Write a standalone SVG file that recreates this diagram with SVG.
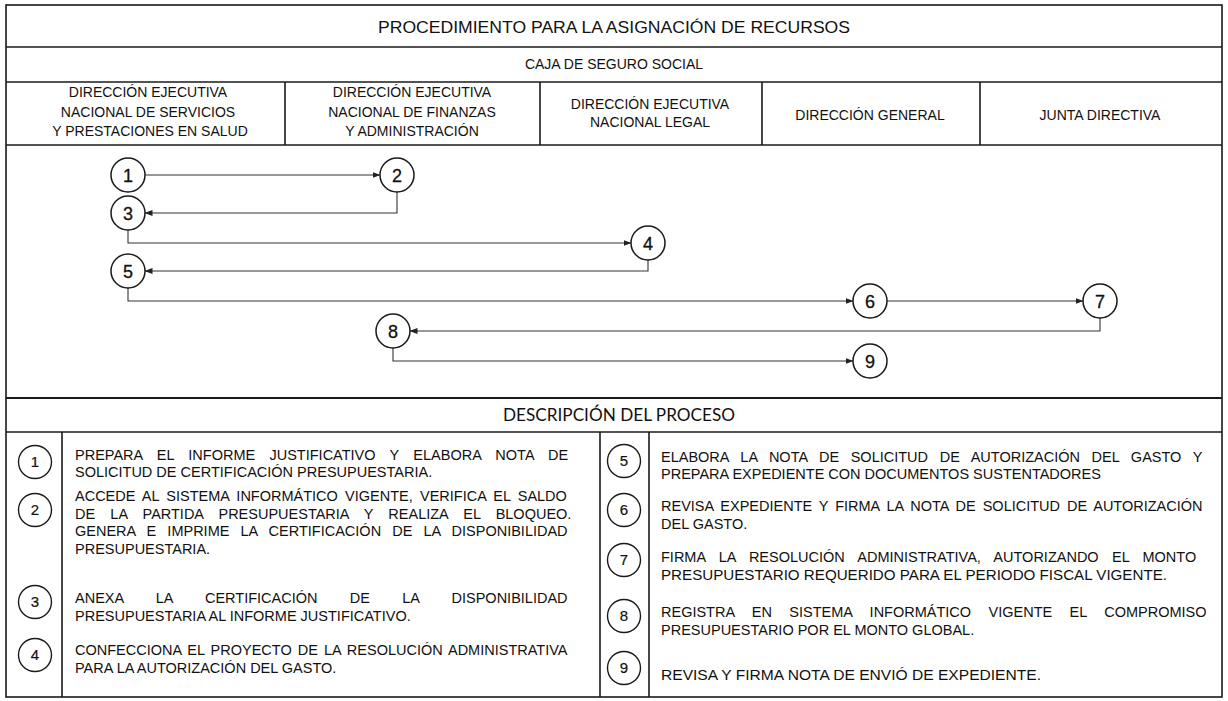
<svg xmlns="http://www.w3.org/2000/svg" width="1228" height="701" viewBox="0 0 1228 701">
<style>
.frame{fill:none;stroke:#1a1a1a;stroke-width:1.6}
.ln{stroke:#1a1a1a;stroke-width:1.6;fill:none}
.t{font-family:"Liberation Sans",Arial,sans-serif;fill:#111}
.title{font-size:17px;text-anchor:middle}
.sub{font-size:14px;text-anchor:middle}
.lane{font-size:14px;text-anchor:middle}
.desc{font-size:14.5px}
.hd{font-family:Lato,"Noto Sans",sans-serif;font-size:17px;text-anchor:middle;fill:#111}
.node circle{fill:#fff;stroke:#1a1a1a;stroke-width:1.5}
.node text{font-family:"Liberation Sans",Arial,sans-serif;font-size:18px;text-anchor:middle;fill:#111;stroke:#111;stroke-width:0.3}
.num circle{fill:#fff;stroke:#1a1a1a;stroke-width:1.4}
.num text{font-family:"Liberation Sans",Arial,sans-serif;font-size:15px;text-anchor:middle;fill:#111;stroke:#111;stroke-width:0.2}
.conn path{fill:none;stroke:#333;stroke-width:1.1;marker-end:url(#ah)}
</style>
<defs>
<marker id="ah" markerWidth="8" markerHeight="6" refX="7.5" refY="3" orient="auto" markerUnits="userSpaceOnUse">
<path d="M0,0 L8,3 L0,6 Z" fill="#222"/>
</marker>
</defs>
<rect x="0" y="0" width="1228" height="701" fill="#fff"/>

<g id="table">
<rect class="frame" x="6" y="5" width="1216" height="692"/>
<line class="ln" x1="6" y1="47" x2="1222" y2="47"/>
<line class="ln" x1="6" y1="82" x2="1222" y2="82"/>
<line class="ln" x1="6" y1="145" x2="1222" y2="145"/>
<line class="ln" x1="285" y1="82" x2="285" y2="145"/>
<line class="ln" x1="540" y1="82" x2="540" y2="145"/>
<line class="ln" x1="762" y1="82" x2="762" y2="145"/>
<line class="ln" x1="980" y1="82" x2="980" y2="145"/>
<line class="ln" x1="6" y1="398" x2="1222" y2="398" style="stroke-width:2.2"/>
<line class="ln" x1="6" y1="432" x2="1222" y2="432"/>
<line class="ln" x1="62" y1="432" x2="62" y2="697"/>
<line class="ln" x1="600" y1="432" x2="600" y2="697"/>
<line class="ln" x1="649" y1="432" x2="649" y2="697"/>
</g>

<g id="headers">
<text class="t title" x="614" y="33" textLength="472" lengthAdjust="spacingAndGlyphs">PROCEDIMIENTO PARA LA ASIGNACIÓN DE RECURSOS</text>
<text class="t sub" x="614" y="69">CAJA DE SEGURO SOCIAL</text>
<text class="t lane" x="148" y="97">DIRECCIÓN EJECUTIVA</text>
<text class="t lane" x="148" y="117">NACIONAL DE SERVICIOS</text>
<text class="t lane" x="150" y="136">Y PRESTACIONES EN SALUD</text>
<text class="t lane" x="412" y="97">DIRECCIÓN EJECUTIVA</text>
<text class="t lane" x="412" y="117">NACIONAL DE FINANZAS</text>
<text class="t lane" x="412" y="136">Y ADMINISTRACIÓN</text>
<text class="t lane" x="650" y="109">DIRECCIÓN EJECUTIVA</text>
<text class="t lane" x="650" y="127">NACIONAL LEGAL</text>
<text class="t lane" x="870" y="120">DIRECCIÓN GENERAL</text>
<text class="t lane" x="1100" y="120">JUNTA DIRECTIVA</text>
</g>

<g id="connectors" class="conn">
<path d="M145,175 H380"/>
<path d="M397,192 V213 H145"/>
<path d="M128,230 V243 H631"/>
<path d="M648,260 V271 H145"/>
<path d="M128,288 V301 H853"/>
<path d="M887,301 H1083"/>
<path d="M1100,318 V331 H410"/>
<path d="M393,348 V361 H853"/>
</g>

<g id="n1" class="node"><circle cx="128" cy="175" r="17"/><text x="128" y="181.5">1</text></g>
<g id="n2" class="node"><circle cx="397" cy="175" r="17"/><text x="397" y="181.5">2</text></g>
<g id="n3" class="node"><circle cx="128" cy="213" r="17"/><text x="128" y="219.5">3</text></g>
<g id="n4" class="node"><circle cx="648" cy="243" r="17"/><text x="648" y="249.5">4</text></g>
<g id="n5" class="node"><circle cx="128" cy="271" r="17"/><text x="128" y="277.5">5</text></g>
<g id="n6" class="node"><circle cx="870" cy="301" r="17"/><text x="870" y="307.5">6</text></g>
<g id="n7" class="node"><circle cx="1100" cy="301" r="17"/><text x="1100" y="307.5">7</text></g>
<g id="n8" class="node"><circle cx="393" cy="331" r="17"/><text x="393" y="337.5">8</text></g>
<g id="n9" class="node"><circle cx="870" cy="361" r="17"/><text x="870" y="367.5">9</text></g>

<g id="description">
<text class="hd" x="619" y="421" textLength="232" lengthAdjust="spacingAndGlyphs">DESCRIPCIÓN DEL PROCESO</text>

<g id="d1" class="num"><circle cx="35" cy="462" r="16.5"/><text x="35" y="467">1</text></g>
<text class="t desc" x="75" y="460" word-spacing="10.3">PREPARA EL INFORME JUSTIFICATIVO Y ELABORA NOTA DE</text>
<text class="t desc" x="75" y="477">SOLICITUD DE CERTIFICACIÓN PRESUPUESTARIA.</text>

<g id="d2" class="num"><circle cx="35" cy="510" r="16.5"/><text x="35" y="515">2</text></g>
<text class="t desc" x="75" y="501" word-spacing="3.2">ACCEDE AL SISTEMA INFORMÁTICO VIGENTE, VERIFICA EL SALDO</text>
<text class="t desc" x="75" y="519" word-spacing="11.2">DE LA PARTIDA PRESUPUESTARIA Y REALIZA EL BLOQUEO.</text>
<text class="t desc" x="75" y="536" word-spacing="7.1">GENERA E IMPRIME LA CERTIFICACIÓN DE LA DISPONIBILIDAD</text>
<text class="t desc" x="75" y="554">PRESUPUESTARIA.</text>

<g id="d3" class="num"><circle cx="35" cy="602" r="16.5"/><text x="35" y="607">3</text></g>
<text class="t desc" x="75" y="603" word-spacing="28.3">ANEXA LA CERTIFICACIÓN DE LA DISPONIBILIDAD</text>
<text class="t desc" x="75" y="621">PRESUPUESTARIA AL INFORME JUSTIFICATIVO.</text>

<g id="d4" class="num"><circle cx="35" cy="655" r="16.5"/><text x="35" y="660">4</text></g>
<text class="t desc" x="75" y="655" word-spacing="2">CONFECCIONA EL PROYECTO DE LA RESOLUCIÓN ADMINISTRATIVA</text>
<text class="t desc" x="75" y="673">PARA LA AUTORIZACIÓN DEL GASTO.</text>

<g id="d5" class="num"><circle cx="624" cy="461" r="16.5"/><text x="624" y="466">5</text></g>
<text class="t desc" x="661" y="462" word-spacing="7.6">ELABORA LA NOTA DE SOLICITUD DE AUTORIZACIÓN DEL GASTO Y</text>
<text class="t desc" x="661" y="479">PREPARA EXPEDIENTE CON DOCUMENTOS SUSTENTADORES</text>

<g id="d6" class="num"><circle cx="624" cy="510" r="16.5"/><text x="624" y="515">6</text></g>
<text class="t desc" x="661" y="511" word-spacing="2.9">REVISA EXPEDIENTE Y FIRMA LA NOTA DE SOLICITUD DE AUTORIZACIÓN</text>
<text class="t desc" x="661" y="529">DEL GASTO.</text>

<g id="d7" class="num"><circle cx="624" cy="560" r="16.5"/><text x="624" y="565">7</text></g>
<text class="t desc" x="661" y="562" word-spacing="9.3">FIRMA LA RESOLUCIÓN ADMINISTRATIVA, AUTORIZANDO EL MONTO</text>
<text class="t desc" x="661" y="580" textLength="506" lengthAdjust="spacingAndGlyphs">PRESUPUESTARIO REQUERIDO PARA EL PERIODO FISCAL VIGENTE.</text>

<g id="d8" class="num"><circle cx="624" cy="616" r="16.5"/><text x="624" y="621">8</text></g>
<text class="t desc" x="661" y="617" word-spacing="13.4">REGISTRA EN SISTEMA INFORMÁTICO VIGENTE EL COMPROMISO</text>
<text class="t desc" x="661" y="635">PRESUPUESTARIO POR EL MONTO GLOBAL.</text>

<g id="d9" class="num"><circle cx="624" cy="668" r="16.5"/><text x="624" y="673">9</text></g>
<text class="t desc" x="661" y="680" textLength="380" lengthAdjust="spacingAndGlyphs">REVISA Y FIRMA NOTA DE ENVIÓ DE EXPEDIENTE.</text>
</g>
</svg>
